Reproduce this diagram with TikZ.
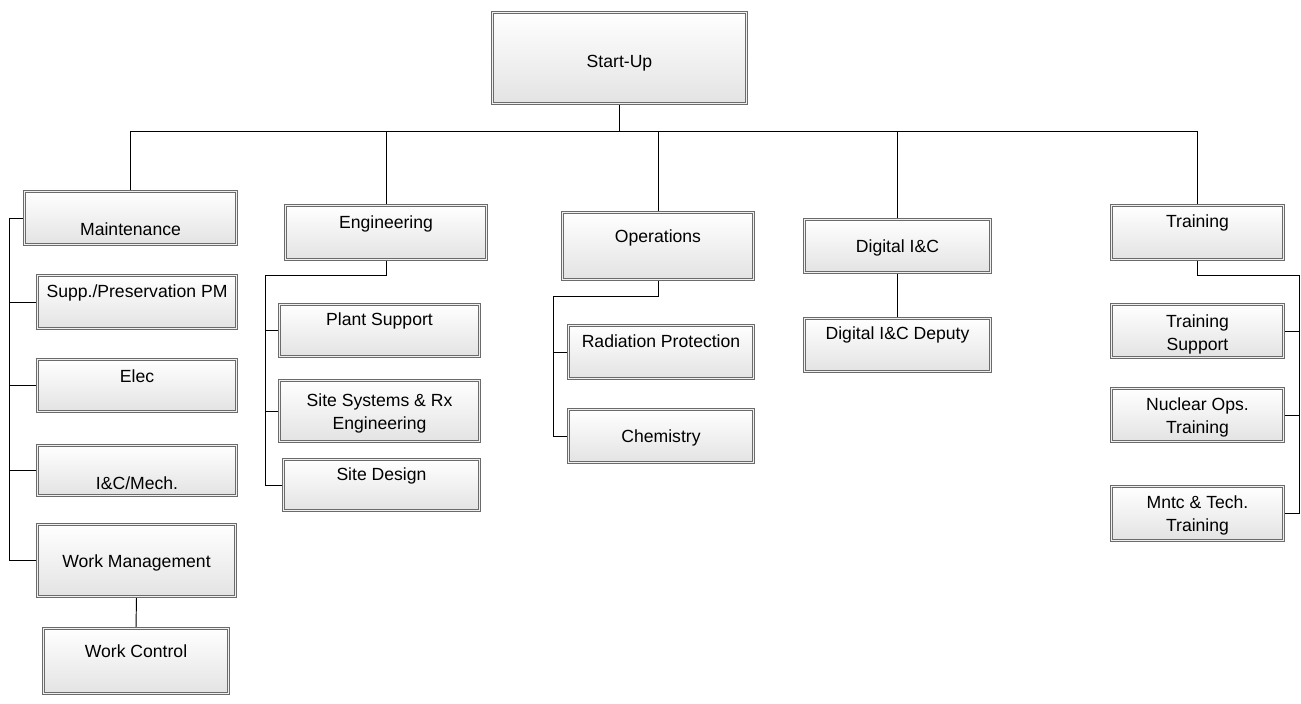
\documentclass[tikz,border=0pt]{standalone}
\usepackage{fontspec}
\setmainfont{Liberation Sans}
\usetikzlibrary{shadows,backgrounds}
\tikzset{
  box/.style={rectangle, inner sep=0pt, draw=black!58, line width=0.8pt,
    double=black!6, double distance=1.2pt,
    top color=white, bottom color=black!11,
    drop shadow={shadow xshift=1.6pt, shadow yshift=-1.6pt, fill=black!30, opacity=0.6}},
  lbl/.style={inner sep=0pt, font=\fontsize{17.6}{23}\selectfont, text=black},
  one/.style={lbl, anchor=base},
  two/.style={lbl, align=center, anchor=center},
  conn/.style={draw=black, line width=0.95pt}
}
\begin{document}
\begin{tikzpicture}[x=1pt,y=-1pt]
\useasboundingbox (0,0) rectangle (1301,704);
% boxes
\node[box, minimum width=254.2pt, minimum height=91.2pt] (start) at (619.5,58) {};
\node[box, minimum width=212.2pt, minimum height=53.2pt] (maint) at (130.5,218) {};
\node[box, minimum width=199.2pt, minimum height=53.2pt] (supp) at (137,302) {};
\node[box, minimum width=199.2pt, minimum height=52.2pt] (elec) at (137,385.5) {};
\node[box, minimum width=199.2pt, minimum height=50.2pt] (icm) at (137,470.5) {};
\node[box, minimum width=198.2pt, minimum height=72.2pt] (wm) at (136.5,560.5) {};
\node[box, minimum width=185.2pt, minimum height=65.2pt] (wc) at (136,661) {};
\node[box, minimum width=201.2pt, minimum height=54.2pt] (eng) at (386,232.5) {};
\node[box, minimum width=200.2pt, minimum height=52.2pt] (ps) at (379.5,330.5) {};
\node[box, minimum width=200.2pt, minimum height=61.2pt] (ssrx) at (379.5,411) {};
\node[box, minimum width=196.2pt, minimum height=51.2pt] (sd) at (381.5,485) {};
\node[box, minimum width=191.2pt, minimum height=67.2pt] (ops) at (658,246) {};
\node[box, minimum width=185.2pt, minimum height=53.2pt] (rp) at (661,352) {};
\node[box, minimum width=185.2pt, minimum height=53.2pt] (chem) at (661,436) {};
\node[box, minimum width=186.2pt, minimum height=53.2pt] (dic) at (897.5,246) {};
\node[box, minimum width=186.2pt, minimum height=53.2pt] (dep) at (897.5,345) {};
\node[box, minimum width=172.2pt, minimum height=54.2pt] (trn) at (1197.5,232.5) {};
\node[box, minimum width=172.2pt, minimum height=53.2pt] (ts) at (1197.5,331) {};
\node[box, minimum width=172.2pt, minimum height=53.2pt] (nops) at (1197.5,415) {};
\node[box, minimum width=172.2pt, minimum height=54.2pt] (mt) at (1197.5,513.5) {};
% labels
\node[one] (start-t) at (619.5,67) {Start-Up};
\node[one] (maint-t) at (130.5,235) {Maintenance};
\node[one] (supp-t) at (137,297) {Supp./Preservation PM};
\node[one] (elec-t) at (137,382) {Elec};
\node[one] (icm-t) at (137,489) {I\&C/Mech.};
\node[one] (wm-t) at (136.5,567) {Work Management};
\node[one] (wc-t) at (136,657) {Work Control};
\node[one] (eng-t) at (386,228) {Engineering};
\node[one] (ps-t) at (379.5,325) {Plant Support};
\node[two] (ssrx-t) at (379.5,413) {Site Systems \& Rx\\Engineering};
\node[one] (sd-t) at (381.5,480) {Site Design};
\node[one] (ops-t) at (658,242) {Operations};
\node[one] (rp-t) at (661,347) {Radiation Protection};
\node[one] (chem-t) at (661,442) {Chemistry};
\node[one] (dic-t) at (897.5,252) {Digital I\&C};
\node[one] (dep-t) at (897.5,339) {Digital I\&C Deputy};
\node[one] (trn-t) at (1197.5,227) {Training};
\node[two] (ts-t) at (1197.5,334) {Training\\Support};
\node[two] (nops-t) at (1197.5,417) {Nuclear Ops.\\Training};
\node[two] (mt-t) at (1197.5,515) {Mntc \& Tech.\\Training};
% junction points
\coordinate (busL) at (130.5,131);
\coordinate (busR) at (1197.5,131);
\coordinate (mj) at (9,218);
\coordinate (ej) at (265,275);
\coordinate (oj) at (553,296);
\coordinate (tj) at (1299,275);
\begin{scope}[on background layer]
\fill[white] (0,0) rectangle (1301,704);
\draw[conn] (start.south) -- (start.south |- busL);
\draw[conn] (busL) -- (busR);
\draw[conn] (busL) -- (maint.north);
\draw[conn] (eng.north |- busL) -- (eng.north);
\draw[conn] (ops.north |- busL) -- (ops.north);
\draw[conn] (dic.north |- busL) -- (dic.north);
\draw[conn] (busR) -- (trn.north);
% maintenance
\draw[conn] (maint.west) -- (mj) |- (wm.west);
\draw[conn] (supp.west) -- (supp.west -| mj);
\draw[conn] (elec.west) -- (elec.west -| mj);
\draw[conn] (icm.west) -- (icm.west -| mj);
\draw[conn] (wm.south) -- (wc.north);
% engineering
\draw[conn] (eng.south) |- (ej) |- (sd.west);
\draw[conn] (ps.west) -- (ps.west -| ej);
\draw[conn] (ssrx.west) -- (ssrx.west -| ej);
% operations
\draw[conn] (ops.south) |- (oj) |- (chem.west);
\draw[conn] (rp.west) -- (rp.west -| oj);
% digital
\draw[conn] (dic.south) -- (dep.north);
% training
\draw[conn] (trn.south) |- (tj) |- (mt.east);
\draw[conn] (ts.east) -- (ts.east -| tj);
\draw[conn] (nops.east) -- (nops.east -| tj);
\end{scope}
\end{tikzpicture}
\end{document}
